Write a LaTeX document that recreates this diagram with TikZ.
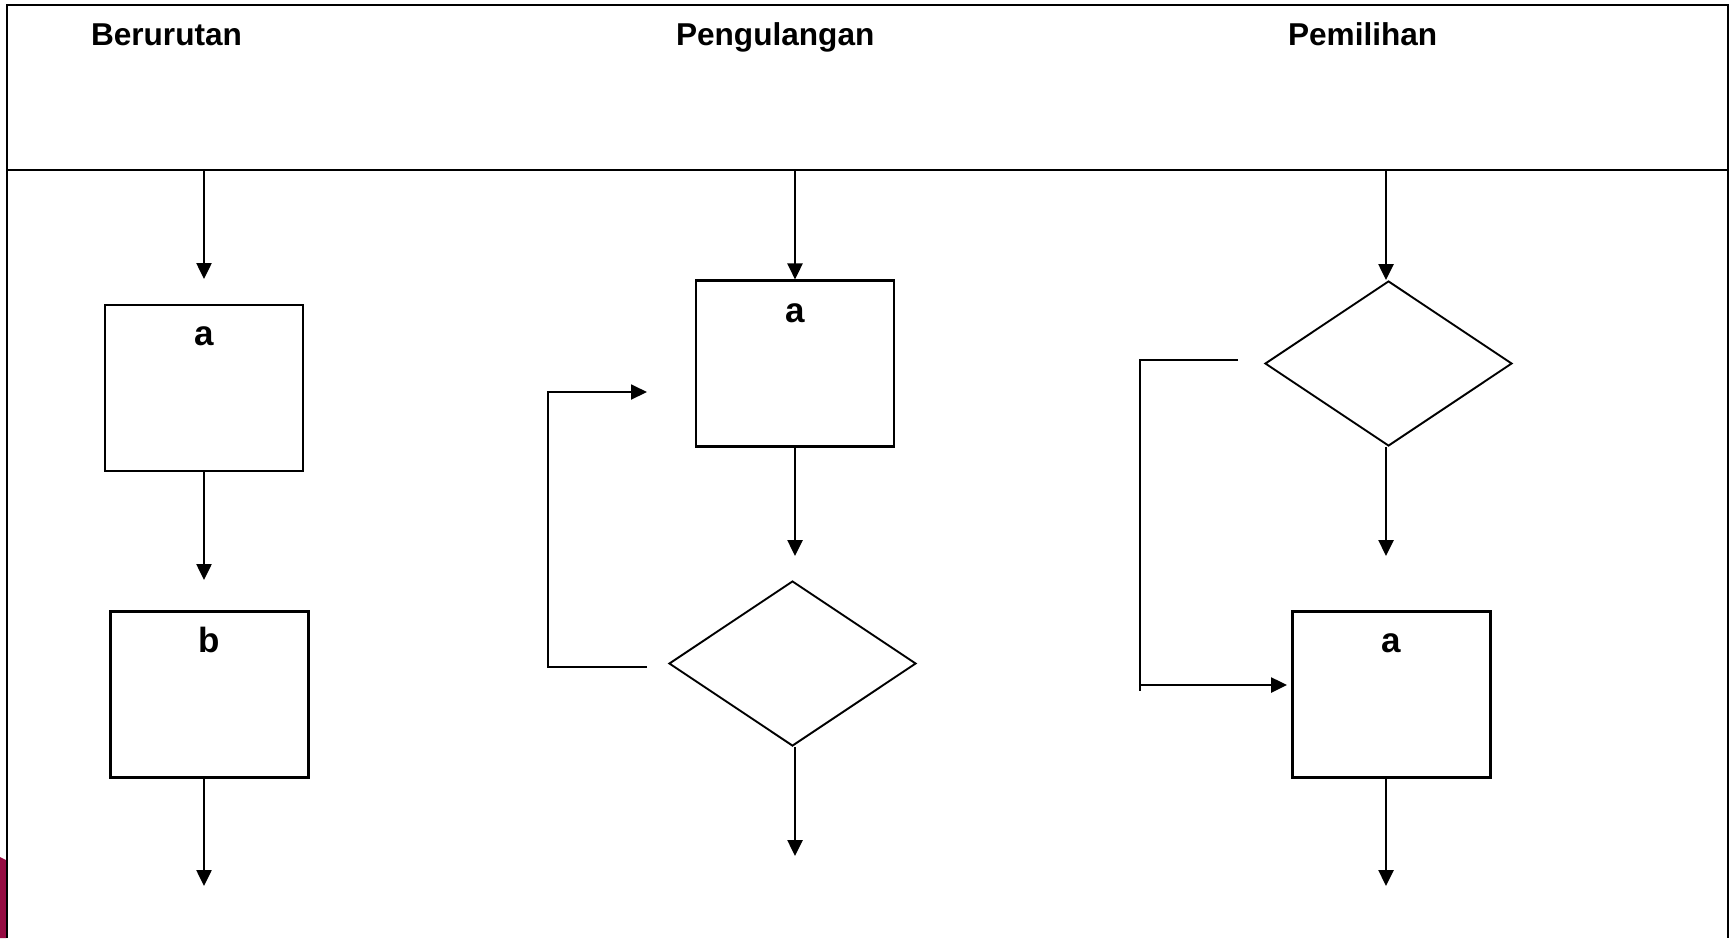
\documentclass[tikz,border=0pt]{standalone}
\usepackage{fontspec}
\setmainfont{Liberation Sans}
\usetikzlibrary{shapes.geometric,arrows.meta}
\definecolor{slidered}{RGB}{150,12,66}
\begin{document}
\begin{tikzpicture}[x=0.5pt,y=-0.5pt,
  line width=1pt,
  box/.style={draw,line width=1.05pt,inner sep=0pt,minimum width=99pt,minimum height=83pt},
  dia/.style={draw,diamond,inner sep=0pt,minimum width=123.5pt,minimum height=82.5pt,line width=0.95pt},
  arr/.style={-{Triangle[length=8pt,width=7.5pt]},line width=1.25pt},
  ttl/.style={font=\bfseries\fontsize{15.8}{18}\selectfont,inner sep=0pt,anchor=base west},
  lbl/.style={font=\bfseries\fontsize{17.5}{20}\selectfont,inner sep=0pt,anchor=base},
]
\useasboundingbox (0,0) rectangle (1732,938);
% slide artefact at left edge
\fill[slidered] (0,857) -- (6,860) -- (6,938) -- (0,938) -- cycle;
% frame
\draw[line width=1.05pt] (7,938) -- (7,5) -- (1728,5) -- (1728,938);
\draw[line width=1.05pt] (7,170) -- (1728,170);
% titles
\node[ttl] (t1) at (90,45) {Berurutan};
\node[ttl] (t2) at (675,45) {Pengulangan};
\node[ttl] (t3) at (1287,45) {Pemilihan};

% ---------- Berurutan ----------
\coordinate (s1) at (204,170);
\coordinate (e1) at (204,279);
\node[box] (A1) at (204,388) {};
\node[lbl] (la1) at (204,345) {a};
\coordinate (e2) at (204,580);
\node[box] (B1) at (209.5,694.5) {};
\node[lbl] (lb1) at (209,652) {b};
\coordinate (e3) at (204,886);
\draw[arr] (s1) -- (e1);
\draw[arr] (A1.south -| s1) -- (e2);
\draw[arr] (B1.south -| s1) -- (e3);

% ---------- Pengulangan ----------
\coordinate (s2) at (795,170);
\node[box] (A2) at (795,363.5) {};
\node[lbl] (la2) at (795,322) {a};
\coordinate (e4) at (795,556);
\node[dia] (D2) at (792.5,663.5) {};
\coordinate (e5) at (795,856);
\coordinate (l1) at (647,667);
\coordinate (l2) at (548,667);
\coordinate (l3) at (548,392);
\coordinate (l4) at (647,392);
\draw[arr] (s2) -- (A2.north);
\draw[arr] (A2.south) -- (e4);
\draw[arr] (D2.south -| s2) -- (e5);
\draw[line width=0.95pt,-{Triangle[length=8pt,width=7.5pt]}] (l1) -- (l2) -- (l3) -- (l4);

% ---------- Pemilihan ----------
\coordinate (s3) at (1386,170);
\node[dia] (D3) at (1388.5,363.5) {};
\coordinate (e6) at (1386,556);
\node[box] (A3) at (1391.5,694.5) {};
\node[lbl] (la3) at (1391,652) {a};
\coordinate (e7) at (1386,886);
\coordinate (m1) at (1238,360);
\coordinate (m2) at (1140,360);
\coordinate (m3) at (1140,691);
\coordinate (m4) at (1140,685);
\coordinate (m5) at (1287,685);
\draw[arr] (s3) -- (D3.north -| s3);
\draw[arr] (D3.south -| s3) -- (e6);
\draw[arr] (A3.south -| s3) -- (e7);
\draw[line width=0.95pt] (m1) -- (m2) -- (m3);
\draw[arr] (m4) -- (m5);
\end{tikzpicture}
\end{document}
